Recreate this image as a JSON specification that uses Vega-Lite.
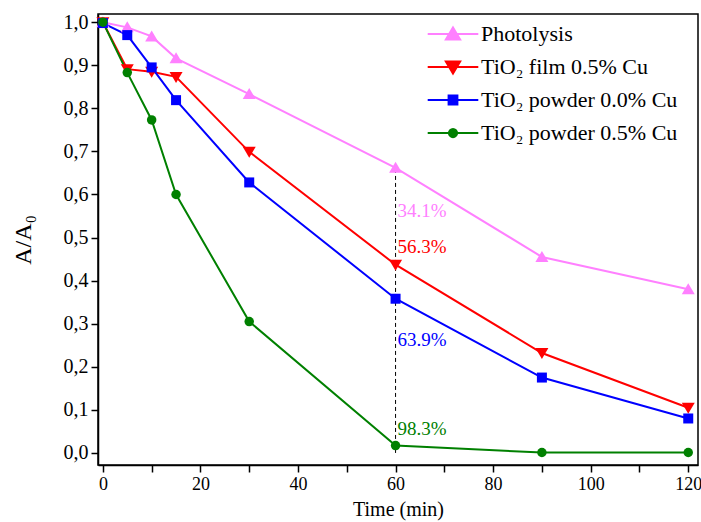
{
  "$schema": "https://vega.github.io/schema/vega-lite/v6.json",
  "width": 600,
  "height": 451,
  "autosize": {"type": "none"},
  "padding": {"left": 98, "top": 14, "right": 3, "bottom": 57},
  "background": "white",
  "config": {
    "view": {"stroke": "black", "strokeWidth": 1.5},
    "font": "Liberation Serif",
    "axis": {"labelFont": "Liberation Serif", "titleFont": "Liberation Serif", "labelColor": "black", "titleColor": "black", "domainColor": "black", "tickColor": "black", "domainWidth": 1.5, "tickWidth": 1.5, "grid": false, "titleFontWeight": "normal"},
    "legend": {"labelFont": "Liberation Serif"}
  },
  "datasets": {
    "main": [
      {"t": 0, "v": 1.0, "s": "Photolysis"},
      {"t": 5, "v": 0.988, "s": "Photolysis"},
      {"t": 10, "v": 0.967, "s": "Photolysis"},
      {"t": 15, "v": 0.916, "s": "Photolysis"},
      {"t": 30, "v": 0.833, "s": "Photolysis"},
      {"t": 60, "v": 0.662, "s": "Photolysis"},
      {"t": 90, "v": 0.455, "s": "Photolysis"},
      {"t": 120, "v": 0.38, "s": "Photolysis"},
      {"t": 0, "v": 1.0, "s": "TiO₂ film 0.5% Cu"},
      {"t": 5, "v": 0.891, "s": "TiO₂ film 0.5% Cu"},
      {"t": 10, "v": 0.885, "s": "TiO₂ film 0.5% Cu"},
      {"t": 15, "v": 0.873, "s": "TiO₂ film 0.5% Cu"},
      {"t": 30, "v": 0.699, "s": "TiO₂ film 0.5% Cu"},
      {"t": 60, "v": 0.437, "s": "TiO₂ film 0.5% Cu"},
      {"t": 90, "v": 0.232, "s": "TiO₂ film 0.5% Cu"},
      {"t": 120, "v": 0.105, "s": "TiO₂ film 0.5% Cu"},
      {"t": 0, "v": 0.998, "s": "TiO₂ powder 0.0% Cu"},
      {"t": 5, "v": 0.970, "s": "TiO₂ powder 0.0% Cu"},
      {"t": 10, "v": 0.895, "s": "TiO₂ powder 0.0% Cu"},
      {"t": 15, "v": 0.819, "s": "TiO₂ powder 0.0% Cu"},
      {"t": 30, "v": 0.628, "s": "TiO₂ powder 0.0% Cu"},
      {"t": 60, "v": 0.358, "s": "TiO₂ powder 0.0% Cu"},
      {"t": 90, "v": 0.175, "s": "TiO₂ powder 0.0% Cu"},
      {"t": 120, "v": 0.08, "s": "TiO₂ powder 0.0% Cu"},
      {"t": 0, "v": 1.0, "s": "TiO₂ powder 0.5% Cu"},
      {"t": 5, "v": 0.883, "s": "TiO₂ powder 0.5% Cu"},
      {"t": 10, "v": 0.773, "s": "TiO₂ powder 0.5% Cu"},
      {"t": 15, "v": 0.600, "s": "TiO₂ powder 0.5% Cu"},
      {"t": 30, "v": 0.305, "s": "TiO₂ powder 0.5% Cu"},
      {"t": 60, "v": 0.017, "s": "TiO₂ powder 0.5% Cu"},
      {"t": 90, "v": 0.001, "s": "TiO₂ powder 0.5% Cu"},
      {"t": 120, "v": 0.001, "s": "TiO₂ powder 0.5% Cu"}
    ],
    "ann": [
      {"t": 60, "v": 0.561, "label": "34.1%", "s": "Photolysis"},
      {"t": 60, "v": 0.478, "label": "56.3%", "s": "TiO₂ film 0.5% Cu"},
      {"t": 60, "v": 0.262, "label": "63.9%", "s": "TiO₂ powder 0.0% Cu"},
      {"t": 60, "v": 0.056, "label": "98.3%", "s": "TiO₂ powder 0.5% Cu"}
    ],
    "rule": [
      {"t": 60, "v1": 0.0, "v2": 0.662}
    ]
  },
  "layer": [
    {
      "data": {"name": "rule"},
      "mark": {"type": "rule", "strokeDash": [4, 3], "color": "black", "strokeWidth": 1},
      "encoding": {
        "x": {"field": "t", "type": "quantitative", "scale": {"domain": [-1, 122], "nice": false},
              "axis": {"values": [0, 10, 20, 30, 40, 50, 60, 70, 80, 90, 100, 110, 120], "tickSize": 7, "labelFontSize": 18, "labelPadding": 3,
                       "labelExpr": "datum.value % 20 === 0 ? datum.label : ''", "title": "Time (min)", "titleFontSize": 20, "titlePadding": 6,
                       "encode": {"ticks": {"update": {"y2": {"signal": "datum.value % 20 === 0 ? 7 : 4"}}}}}},
        "y": {"field": "v1", "type": "quantitative", "scale": {"domain": [-0.028, 1.019], "nice": false},
              "axis": {"values": [0, 0.1, 0.2, 0.3, 0.4, 0.5, 0.6, 0.7, 0.8, 0.9, 1.0], "tickSize": 7, "labelFontSize": 20, "labelPadding": 3,
                       "labelExpr": "replace(format(datum.value, '.1f'), '.', ',')", "title": "A/A₀", "titleFontSize": 24, "titlePadding": 28}},
        "y2": {"field": "v2"}
      }
    },
    {
      "data": {"name": "main"},
      "mark": {"type": "line", "strokeWidth": 2},
      "encoding": {
        "x": {"field": "t", "type": "quantitative"},
        "y": {"field": "v", "type": "quantitative"},
        "color": {"field": "s", "type": "nominal",
                  "scale": {"domain": ["Photolysis", "TiO₂ film 0.5% Cu", "TiO₂ powder 0.0% Cu", "TiO₂ powder 0.5% Cu"],
                            "range": ["#FF80FF", "#FF0000", "#0000FF", "#008000"]},
                  "legend": {"orient": "none", "legendX": 344, "legendY": 9, "title": null, "padding": 0,
                             "labelFontSize": 22, "labelOffset": 17, "labelLimit": 400, "rowPadding": 11, "symbolSize": 121,
                             "encode": {"symbols": {"update": {
                               "shape": {"signal": "datum.value === 'Photolysis' ? 'M-4.6,0H4.6M0,-1.2L1.3,1L-1.3,1Z' : datum.value === 'TiO₂ film 0.5% Cu' ? 'M-4.6,0H4.6M0,1.2L1.3,-1L-1.3,-1Z' : datum.value === 'TiO₂ powder 0.0% Cu' ? 'M-4.6,0H4.6M-0.8,-0.8H0.8V0.8H-0.8Z' : 'M-4.6,0H4.6M-0.75,0A0.75,0.75 0 1,0 0.75,0A0.75,0.75 0 1,0 -0.75,0'"},
                               "stroke": {"scale": "color", "field": "value"},
                               "fill": {"scale": "color", "field": "value"},
                               "strokeWidth": {"value": 2},
                               "opacity": {"value": 1}
                             }}}}},
        "detail": {"field": "s"}
      }
    },
    {
      "data": {"name": "main"},
      "transform": [{"filter": "datum.s === 'Photolysis'"}],
      "mark": {"type": "point", "filled": true, "opacity": 1, "size": 100, "shape": "M0,-1.2L1.3,1L-1.3,1Z"},
      "encoding": {
        "x": {"field": "t", "type": "quantitative"},
        "y": {"field": "v", "type": "quantitative"},
        "color": {"field": "s", "type": "nominal"}
      }
    },
    {
      "data": {"name": "main"},
      "transform": [{"filter": "datum.s === 'TiO₂ film 0.5% Cu'"}],
      "mark": {"type": "point", "filled": true, "opacity": 1, "size": 100, "shape": "M0,1.2L1.3,-1L-1.3,-1Z"},
      "encoding": {
        "x": {"field": "t", "type": "quantitative"},
        "y": {"field": "v", "type": "quantitative"},
        "color": {"field": "s", "type": "nominal"}
      }
    },
    {
      "data": {"name": "main"},
      "transform": [{"filter": "datum.s === 'TiO₂ powder 0.0% Cu'"}],
      "mark": {"type": "point", "filled": true, "opacity": 1, "size": 100, "shape": "square"},
      "encoding": {
        "x": {"field": "t", "type": "quantitative"},
        "y": {"field": "v", "type": "quantitative"},
        "color": {"field": "s", "type": "nominal"}
      }
    },
    {
      "data": {"name": "main"},
      "transform": [{"filter": "datum.s === 'TiO₂ powder 0.5% Cu'"}],
      "mark": {"type": "point", "filled": true, "opacity": 1, "size": 90, "shape": "circle"},
      "encoding": {
        "x": {"field": "t", "type": "quantitative"},
        "y": {"field": "v", "type": "quantitative"},
        "color": {"field": "s", "type": "nominal"}
      }
    },
    {
      "data": {"name": "ann"},
      "mark": {"type": "text", "align": "left", "baseline": "middle", "dx": 2, "fontSize": 19, "font": "Liberation Serif"},
      "encoding": {
        "x": {"field": "t", "type": "quantitative"},
        "y": {"field": "v", "type": "quantitative"},
        "text": {"field": "label"},
        "color": {"field": "s", "type": "nominal"}
      }
    }
  ]
}
